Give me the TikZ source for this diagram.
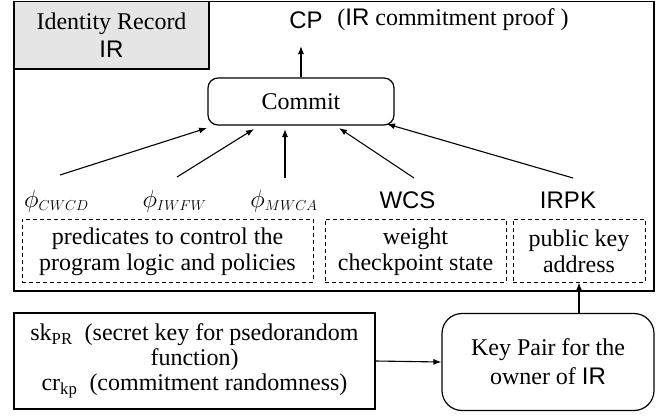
\documentclass[tikz,border=0pt]{standalone}
\usepackage{fontspec}
\setmainfont{Liberation Serif}
\newfontfamily\arial{Liberation Sans}
\usetikzlibrary{arrows.meta}
\begin{document}
\begin{tikzpicture}[x=1pt,y=-1pt,
  every node/.style={font=\fontsize{24}{25.5}\selectfont, inner sep=0pt, align=center},
  solidbox/.style={draw, line width=1.2pt},
  roundbox/.style={draw, line width=1.2pt, rounded corners=#1},
  dashbox/.style={draw, line width=1pt, dash pattern=on 4pt off 3pt},
  dashtext/.style={font=\fontsize{24}{26}\selectfont},
  phil/.style={font=\fontsize{28}{30}\selectfont},
  arr/.style={line width=1.1pt, -{Latex[length=8pt,width=6pt]}}
]
\useasboundingbox (0,0) rectangle (672,415);
% outer record box
\node[solidbox, minimum width=640pt, minimum height=289.5pt] (outer) at (334,146.25) {};
\node[solidbox, fill=black!10, minimum width=195pt, minimum height=67.5pt] (idbox) at (111.5,35.25) {};
\node[font=\fontsize{24}{28}\selectfont] (idtext) at (111.5,35) {Identity Record\\{\arial IR}};
% CP
\node (cp) at (306,20) {\arial CP};
\node (cpdesc) at (453,20) {\rmfamily ({\arial IR}\rmfamily{} commitment proof )};
\coordinate (cparrow) at (301,46);
% commit
\node[roundbox=10pt, minimum width=186pt, minimum height=47pt] (commit) at (301,101.5) {Commit};
\draw[arr] (commit.north) -- (commit.north |- cparrow);
% labels
\node[phil] (cwcd) at (56.5,201) {$\phi_{\scriptscriptstyle CWCD}$};
\node[phil] (iwfw) at (174.5,201) {$\phi_{\scriptscriptstyle IWFW}$};
\node[phil] (mwca) at (284,201) {$\phi_{\scriptscriptstyle MWCA}$};
\node (wcs) at (407.5,200) {\arial WCS};
\node (irpk) at (568,200) {\arial IRPK};
% arrow endpoints
\coordinate (s1) at (60,175);  \coordinate (e1) at (207,128);
\coordinate (s2) at (177,177); \coordinate (e2) at (254,129);
\coordinate (s3) at (285,178); \coordinate (e3) at (285,129);
\coordinate (s4) at (414,178); \coordinate (e4) at (339,128);
\coordinate (s5) at (573,178); \coordinate (e5) at (387,124);
\draw[arr] (s1) -- (e1);
\draw[arr] (s2) -- (e2);
\draw[arr] (s3) -- (e3);
\draw[arr] (s4) -- (e4);
\draw[arr] (s5) -- (e5);
% dashed boxes
\node[dashbox, minimum width=291pt, minimum height=63pt] (predbox) at (167.5,250.5) {};
\node[dashtext] (predtext) at (167.5,252) {predicates to control the\\program logic and policies};
\node[dashbox, minimum width=181pt, minimum height=63pt] (wcsbox) at (415.5,250.5) {};
\node[dashtext] (wcstext) at (415.5,252) {weight\\checkpoint state};
\node[dashbox, minimum width=132pt, minimum height=63pt] (pubbox) at (579,250.5) {};
\node[dashtext] (pubtext) at (579,251) {public key\\address};
% bottom boxes
\node[solidbox, minimum width=361pt, minimum height=96pt, font=\fontsize{24}{25}\selectfont] (secret) at (194.5,361)
  {sk\textsubscript{PR}\enspace(secret key for psedorandom\\function)\\cr\textsubscript{kp}\enspace(commitment randomness)};
\node[roundbox=20pt, minimum width=212pt, minimum height=97pt, font=\fontsize{24}{29}\selectfont] (keypair) at (548,362)
  {Key Pair for the\\owner of {\arial IR}};
\draw[arr] (secret.east) -- (keypair.west);
\draw[arr] (keypair.north -| pubbox.south) -- (pubbox.south);
\end{tikzpicture}
\end{document}
